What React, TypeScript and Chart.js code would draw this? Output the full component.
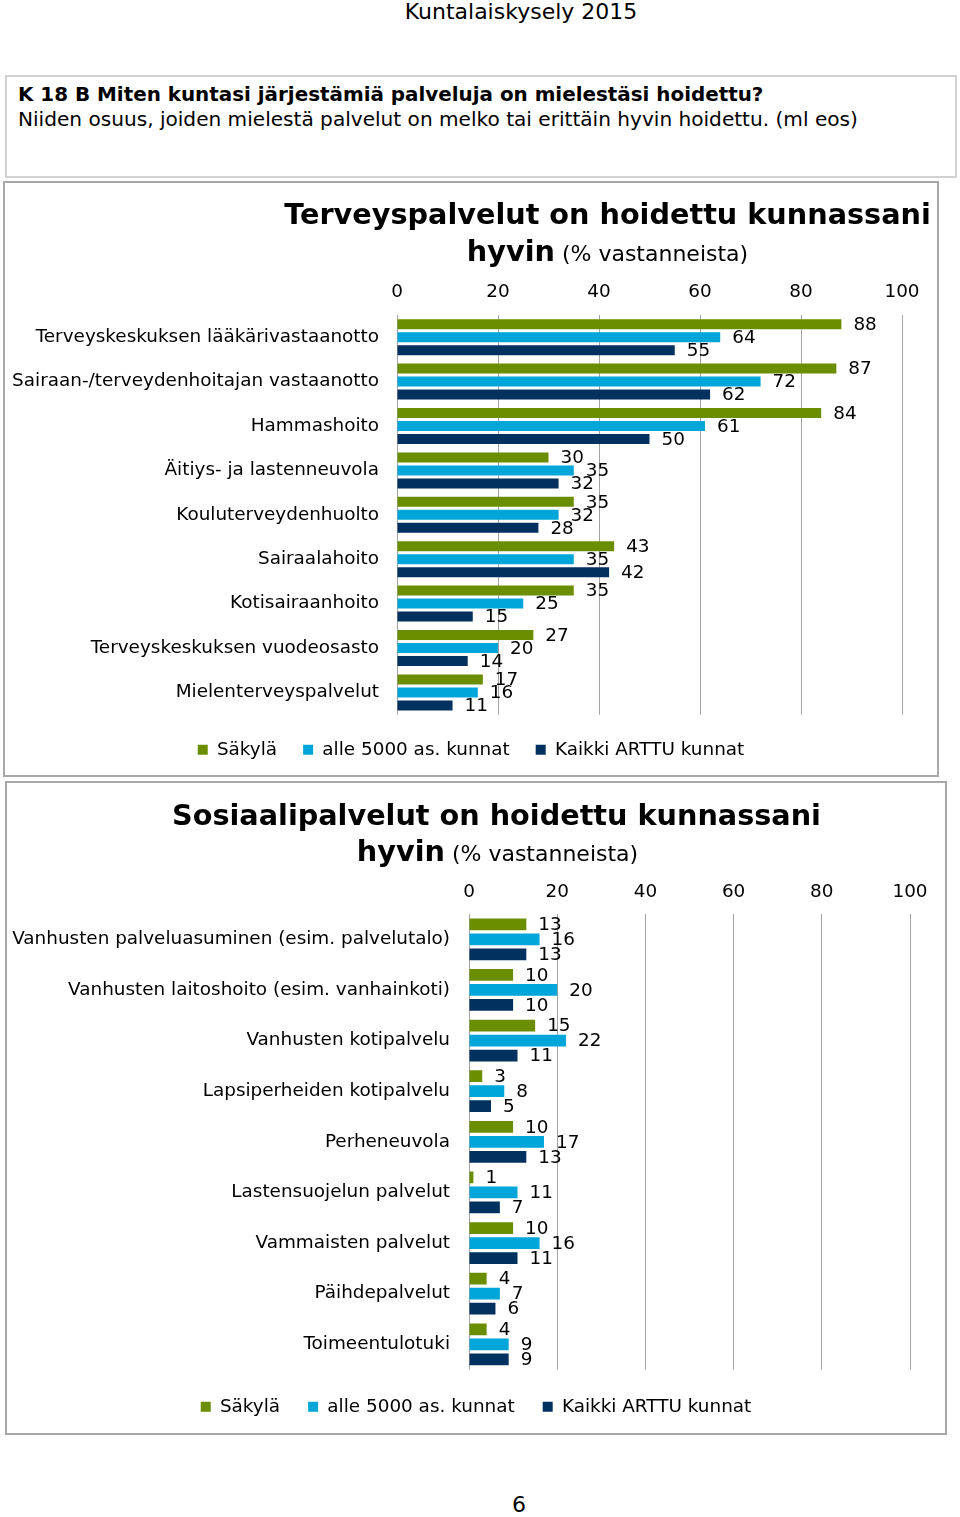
import React, { useEffect, useRef } from "react";
import { Chart, registerables } from "chart.js";

Chart.register(...registerables);

// ---------- data ----------
const seriesNames = ["Säkylä", "alle 5000 as. kunnat", "Kaikki ARTTU kunnat"];
const seriesColors = ["#6b8e00", "#00a6d9", "#03315f"];
const xTickValues = [0, 20, 40, 60, 80, 100];

const healthCategories = [
  "Terveyskeskuksen lääkärivastaanotto",
  "Sairaan-/terveydenhoitajan vastaanotto",
  "Hammashoito",
  "Äitiys- ja lastenneuvola",
  "Kouluterveydenhuolto",
  "Sairaalahoito",
  "Kotisairaanhoito",
  "Terveyskeskuksen vuodeosasto",
  "Mielenterveyspalvelut",
];
const healthSakyla = [88, 87, 84, 30, 35, 43, 35, 27, 17];
const healthSmall = [64, 72, 61, 35, 32, 35, 25, 20, 16];
const healthAll = [55, 62, 50, 32, 28, 42, 15, 14, 11];

const socialCategories = [
  "Vanhusten palveluasuminen (esim. palvelutalo)",
  "Vanhusten laitoshoito (esim. vanhainkoti)",
  "Vanhusten kotipalvelu",
  "Lapsiperheiden kotipalvelu",
  "Perheneuvola",
  "Lastensuojelun palvelut",
  "Vammaisten palvelut",
  "Päihdepalvelut",
  "Toimeentulotuki",
];
const socialSakyla = [13, 10, 15, 3, 10, 1, 10, 4, 4];
const socialSmall = [16, 20, 22, 8, 17, 11, 16, 7, 9];
const socialAll = [13, 10, 11, 5, 13, 7, 11, 6, 9];

// ---------- styling ----------
const FONT_FAMILY = "'DejaVu Sans', Verdana, sans-serif";
const TEXT_COLOR = "#000000";
const GRID_COLOR = "#a3a3a3";
const CHART_FONT_SIZE = 18.4;

const valueLabelPlugin = {
  id: "valueLabels",
  afterDatasetsDraw(chart: any) {
    const ctx = chart.ctx;
    ctx.save();
    ctx.font = CHART_FONT_SIZE + "px " + FONT_FAMILY;
    ctx.fillStyle = TEXT_COLOR;
    ctx.textAlign = "left";
    ctx.textBaseline = "middle";
    chart.data.datasets.forEach((ds: any, i: number) => {
      const meta = chart.getDatasetMeta(i);
      meta.data.forEach((el: any, j: number) => {
        ctx.fillText(String(ds.data[j]), el.x + 12, el.y + 1);
      });
    });
    ctx.restore();
  },
};

type Geom = {
  yWidth: number;
  rightWidth: number;
  xHeight: number;
  padBottom: number;
  legendPad: number;
  catPct: number;
  barPct: number;
  yPad: number;
  xPad: number;
};

function buildConfig(categories: string[], series: number[][], g: Geom): any {
  const font = { family: FONT_FAMILY, size: CHART_FONT_SIZE };
  return {
    type: "bar",
    data: {
      labels: categories,
      datasets: series.map((d, i) => ({
        label: seriesNames[i],
        data: d,
        backgroundColor: seriesColors[i],
        borderWidth: 0,
        categoryPercentage: g.catPct,
        barPercentage: g.barPct,
      })),
    },
    options: {
      indexAxis: "y",
      animation: false,
      responsive: false,
      maintainAspectRatio: false,
      layout: { padding: { top: 0, left: 0, right: 0, bottom: g.padBottom } },
      scales: {
        x: {
          position: "top",
          min: 0,
          max: 100,
          afterBuildTicks: (s: any) => {
            s.ticks = xTickValues.map((v) => ({ value: v }));
          },
          grid: { color: GRID_COLOR, lineWidth: 1, drawTicks: false },
          border: { display: false },
          ticks: { font, color: TEXT_COLOR, padding: g.xPad, maxRotation: 0 },
          afterFit: (s: any) => {
            s.height = g.xHeight;
          },
        },
        y: {
          position: "left",
          grid: { display: false, drawTicks: false },
          border: { display: false },
          ticks: { font, color: TEXT_COLOR, padding: g.yPad },
          afterFit: (s: any) => {
            s.width = g.yWidth;
          },
        },
        rightSpace: {
          type: "linear",
          position: "right",
          display: true,
          grid: { display: false, drawTicks: false },
          border: { display: false },
          ticks: { display: false },
          afterFit: (s: any) => {
            s.width = g.rightWidth;
          },
        },
      },
      plugins: {
        legend: {
          position: "bottom",
          labels: {
            boxWidth: 10,
            boxHeight: 10,
            padding: g.legendPad,
            font,
            color: TEXT_COLOR,
          },
        },
        tooltip: { enabled: false },
        title: { display: false },
      },
    },
    plugins: [valueLabelPlugin],
  };
}

function BarChart(props: {
  categories: string[];
  series: number[][];
  geom: Geom;
  width: number;
  height: number;
}) {
  const ref = useRef<HTMLCanvasElement | null>(null);
  useEffect(() => {
    if (!ref.current) return;
    const chart = new Chart(ref.current, buildConfig(props.categories, props.series, props.geom));
    return () => chart.destroy();
  }, []);
  return (
    <canvas
      ref={ref}
      width={props.width}
      height={props.height}
      style={{ position: "absolute", left: 0, top: 0, width: props.width, height: props.height }}
    />
  );
}

const abs = (o: any) => ({ position: "absolute" as const, ...o });

export default function App() {
  return (
    <div
      style={abs({
        left: 0,
        top: 0,
        width: 960,
        height: 1517,
        background: "#ffffff",
        fontFamily: FONT_FAMILY,
        color: TEXT_COLOR,
        overflow: "hidden",
      })}
    >
      <div style={abs({ left: 321, top: 0, width: 400, textAlign: "center", fontSize: 22, lineHeight: "24px" })}>
        Kuntalaiskysely 2015
      </div>

      <div
        style={abs({
          left: 5,
          top: 75,
          width: 952,
          height: 103,
          boxSizing: "border-box",
          border: "2px solid #d2d2d2",
        })}
      />
      <div style={abs({ left: 18, top: 83, fontSize: 19.9, lineHeight: "24px", fontWeight: "bold", whiteSpace: "nowrap" })}>
        K 18 B Miten kuntasi järjestämiä palveluja on mielestäsi hoidettu?
      </div>
      <div style={abs({ left: 18, top: 107, fontSize: 20.1, lineHeight: "24px", whiteSpace: "nowrap" })}>
        Niiden osuus, joiden mielestä palvelut on melko tai erittäin hyvin hoidettu. (ml eos)
      </div>

      {/* Chart 1 */}
      <div
        style={abs({
          left: 3,
          top: 181,
          width: 936,
          height: 596,
          boxSizing: "border-box",
          border: "2px solid #a8a8a8",
        })}
      >
        <BarChart
          categories={healthCategories}
          series={[healthSakyla, healthSmall, healthAll]}
          width={932}
          height={592}
          geom={{
            yWidth: 392,
            rightWidth: 35,
            xHeight: 132,
            padBottom: 6,
            legendPad: 26,
            catPct: 0.878,
            barPct: 0.77,
            yPad: 18,
            xPad: 12,
          }}
        />
      </div>
      <div style={abs({ left: 207.5, top: 196, width: 800, textAlign: "center", fontSize: 28.7, fontWeight: "bold", lineHeight: "36px", whiteSpace: "nowrap" })}>
        Terveyspalvelut on hoidettu kunnassani
      </div>
      <div style={abs({ left: 207.5, top: 233, width: 800, textAlign: "center", lineHeight: "36px", whiteSpace: "nowrap" })}>
        <span style={{ fontSize: 28.7, fontWeight: "bold" }}>hyvin</span>
        <span style={{ fontSize: 22 }}> (% vastanneista)</span>
      </div>

      {/* Chart 2 */}
      <div
        style={abs({
          left: 5,
          top: 781,
          width: 942,
          height: 654,
          boxSizing: "border-box",
          border: "2px solid #a8a8a8",
        })}
      >
        <BarChart
          categories={socialCategories}
          series={[socialSakyla, socialSmall, socialAll]}
          width={938}
          height={650}
          geom={{
            yWidth: 462,
            rightWidth: 35,
            xHeight: 131,
            padBottom: 7,
            legendPad: 28,
            catPct: 0.889,
            barPct: 0.78,
            yPad: 19,
            xPad: 11,
          }}
        />
      </div>
      <div style={abs({ left: 96.5, top: 797, width: 800, textAlign: "center", fontSize: 28.7, fontWeight: "bold", lineHeight: "36px", whiteSpace: "nowrap" })}>
        Sosiaalipalvelut on hoidettu kunnassani
      </div>
      <div style={abs({ left: 97.5, top: 833, width: 800, textAlign: "center", lineHeight: "36px", whiteSpace: "nowrap" })}>
        <span style={{ fontSize: 28.7, fontWeight: "bold" }}>hyvin</span>
        <span style={{ fontSize: 22 }}> (% vastanneista)</span>
      </div>

      <div style={abs({ left: 419, top: 1493, width: 200, textAlign: "center", fontSize: 22, lineHeight: "24px" })}>6</div>
    </div>
  );
}
